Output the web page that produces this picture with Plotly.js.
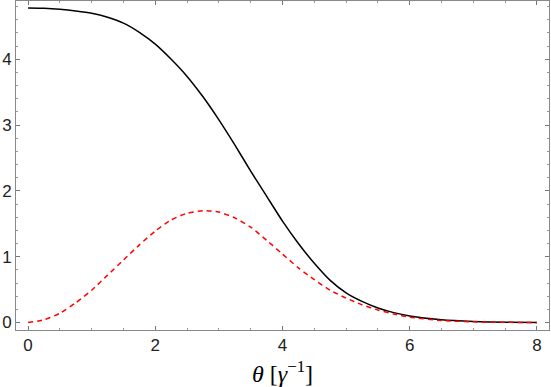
<!DOCTYPE html>
<html>
<head>
<meta charset="utf-8">
<script src="https://cdn.plot.ly/plotly-3.0.1.min.js"></script>
<style>
  body { margin: 0; background: #fff; }
  #chart { width: 551px; height: 387px; }
</style>
</head>
<body>
<div id="chart"></div>
<script>
// angle in units of 1/gamma
var thetaBlack = [0, 0.25, 0.5, 0.75, 1, 1.25, 1.5, 1.75, 2, 2.25, 2.5, 2.75, 3, 3.25, 3.5, 3.75, 4, 4.25, 4.5, 4.75, 5, 5.25, 5.5, 5.75, 6, 6.5, 7, 7.5, 8];
var totalVals  = [4.78, 4.775, 4.76, 4.735, 4.70, 4.64, 4.55, 4.41, 4.23, 4.00, 3.74, 3.43, 3.08, 2.70, 2.30, 1.92, 1.54, 1.20, 0.90, 0.64, 0.45, 0.32, 0.22, 0.15, 0.10, 0.04, 0.015, 0.005, 0];

var thetaRed = [0, 0.25, 0.5, 0.75, 1, 1.25, 1.5, 1.75, 2, 2.25, 2.5, 2.75, 3, 3.25, 3.5, 3.75, 4, 4.25, 4.5, 4.75, 5, 5.25, 5.5, 5.75, 6, 6.5, 7, 7.5, 8];
var partVals = [0, 0.04, 0.14, 0.30, 0.49, 0.72, 0.95, 1.18, 1.39, 1.56, 1.66, 1.70, 1.68, 1.59, 1.45, 1.25, 1.04, 0.83, 0.65, 0.49, 0.37, 0.27, 0.19, 0.13, 0.08, 0.03, 0.01, 0.003, 0];

var xTicks = [0, 2, 4, 6, 8];
var yTicks = [0, 1, 2, 3, 4];

var total = {
    x: thetaBlack,
    y: totalVals,
    mode: 'lines',
    type: 'scatter',
    line: {color: '#000000', width: 1.5, shape: 'spline', smoothing: 0.5},
    hoverinfo: 'none'
};

var part = {
    x: thetaRed,
    y: partVals,
    mode: 'lines',
    type: 'scatter',
    line: {color: '#ff0000', width: 1.5, dash: '5px,4px', shape: 'spline', smoothing: 0.5},
    hoverinfo: 'none'
};

var tickFont = {family: 'Liberation Sans', size: 17, color: '#222'};

var layout = {
    width: 551,
    height: 387,
    margin: {l: 16, r: 2, t: 1, b: 57},
    showlegend: false,
    paper_bgcolor: '#fff',
    plot_bgcolor: '#fff',
    xaxis: {
        range: [-0.19, 8.19],
        tickvals: xTicks,
        ticktext: xTicks.map(String),
        ticks: 'inside',
        ticklen: 4,
        tickcolor: '#777',
        showline: true,
        linecolor: '#888',
        linewidth: 1,
        mirror: 'allticks',
        showgrid: false,
        zeroline: false,
        tickfont: tickFont,
        minor: {dtick: 0.5, ticks: 'inside', ticklen: 2, tickcolor: '#999', showgrid: false},
        title: {
            text: '<i>θ</i> [<i>γ</i><sup>−1</sup>]',
            font: {family: 'Liberation Serif', size: 24, color: '#000'},
            standoff: 14
        },
        automargin: false
    },
    yaxis: {
        range: [-0.114, 4.886],
        tickvals: yTicks,
        ticktext: yTicks.map(String),
        ticks: 'inside',
        ticklen: 4,
        tickcolor: '#777',
        showline: true,
        linecolor: '#888',
        linewidth: 1,
        mirror: 'allticks',
        showgrid: false,
        zeroline: false,
        tickfont: tickFont,
        minor: {dtick: 0.2, ticks: 'inside', ticklen: 2, tickcolor: '#999', showgrid: false},
        automargin: false
    }
};

Plotly.newPlot('chart', [total, part], layout, {displayModeBar: false, staticPlot: true});
</script>
</body>
</html>
